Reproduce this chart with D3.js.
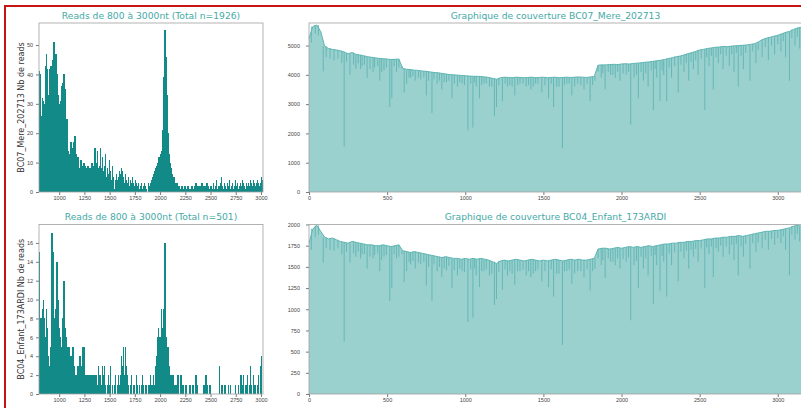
<!DOCTYPE html>
<html>
<head>
<meta charset="utf-8">
<script src="https://cdn.jsdelivr.net/npm/d3@7"></script>
<style>
body{margin:0;background:#fff;}
svg{display:block;font-family:"DejaVu Sans",sans-serif;}
.title{fill:#45a9a6;font-size:9.2px;}
.ylab{fill:#333;font-size:8px;}
.tick text{fill:#444;font-size:5.5px;}
.tick line{stroke:#555;stroke-width:0.8px;}
.domain{display:none;}
</style>
</head>
<body>
<svg id="chart" width="801" height="408"></svg>
<script>
var width = 801, height = 408;

// histogram bins : 10 nt each, first bin starts at 800
var binStart = 800, binWidth = 10;

var mereCounts = [
	41, 40, 26, 32, 31, 30, 43, 47, 42, 33,
	42, 43, 40, 45, 51, 38, 47, 40, 33, 21,
	30, 31, 36, 37, 40, 35, 22, 25, 14, 13,
	12, 17, 11, 15, 17, 19, 13, 10, 12, 8,
	8, 11, 9, 8, 10, 9, 8, 6, 9, 8,
	6, 8, 10, 7, 9, 15, 10, 14, 8, 9,
	15, 8, 12, 7, 9, 13, 5, 8, 6, 11,
	7, 4, 9, 5, 1, 4, 6, 4, 5, 7,
	6, 8, 7, 5, 3, 6, 4, 3, 5, 2,
	4, 3, 5, 3, 2, 4, 3, 2, 3, 1,
	2, 3, 1, 2, 3, 2, 1, 0, 3, 2,
	3, 4, 5, 6, 7, 8, 9, 10, 12, 12,
	13, 14, 21, 39, 55, 46, 33, 20, 13, 10,
	8, 6, 4, 5, 3, 2, 3, 1, 2, 1,
	1, 2, 0, 1, 2, 1, 1, 2, 1, 0,
	1, 2, 1, 1, 2, 3, 1, 2, 1, 2,
	1, 3, 2, 1, 2, 1, 3, 2, 1, 2,
	2, 1, 3, 1, 2, 4, 1, 2, 2, 3,
	5, 2, 1, 3, 2, 1, 3, 2, 4, 1,
	2, 3, 1, 2, 4, 2, 3, 1, 2, 3,
	2, 4, 3, 2, 1, 3, 2, 3, 2, 4,
	3, 2, 4, 3, 2, 3, 4, 3, 2, 3,
	5, 4
];

var enfantCounts = [
	15, 8, 8, 9, 10, 8, 6, 9, 7, 4,
	3, 5, 17, 15, 7, 8, 9, 14, 10, 7,
	6, 5, 3, 8, 12, 7, 6, 5, 4, 5,
	4, 3, 4, 5, 3, 2, 1, 2, 3, 1,
	4, 3, 2, 5, 5, 1, 2, 2, 1, 2,
	2, 1, 2, 2, 1, 2, 2, 1, 3, 2,
	2, 1, 3, 2, 3, 1, 0, 1, 2, 1,
	3, 0, 1, 0, 1, 2, 0, 1, 2, 1,
	2, 4, 3, 5, 2, 5, 3, 2, 1, 0,
	1, 2, 0, 1, 1, 0, 2, 1, 0, 1,
	0, 1, 2, 1, 0, 1, 1, 0, 1, 1,
	2, 1, 1, 2, 1, 3, 4, 6, 7, 6,
	6, 9, 7, 9, 16, 6, 4, 5, 3, 2,
	2, 1, 2, 1, 0, 1, 0, 2, 0, 0,
	2, 0, 1, 0, 0, 1, 0, 0, 0, 1,
	0, 0, 1, 0, 0, 2, 1, 0, 0, 0,
	0, 0, 0, 1, 0, 2, 1, 0, 1, 1,
	0, 0, 0, 0, 0, 0, 0, 0, 3, 0,
	1, 1, 0, 1, 1, 0, 0, 1, 0, 1,
	0, 0, 0, 0, 1, 0, 0, 1, 0, 2,
	2, 1, 2, 0, 1, 1, 2, 0, 1, 3,
	1, 0, 2, 1, 1, 0, 1, 2, 0, 3,
	4, 0
];

// coverage : one value every 25 positions, from 0 to 3150
var covStep = 25;

var mereCov = [
	5250, 5650, 5700, 5480, 4980, 4900, 4870, 4850,
	4820, 4780, 4720, 4760, 4700, 4680, 4650, 4620,
	4600, 4580, 4560, 4550, 4540, 4520, 4530, 4540,
	4220, 4190, 4180, 4160, 4150, 4130, 4120, 4100,
	4080, 4070, 4050, 4030, 4010, 4000, 3990, 3980,
	3970, 3960, 3950, 3950, 3940, 3930, 3910, 3880,
	3850, 3900, 3920, 3910, 3900, 3920, 3910, 3900,
	3910, 3920, 3900, 3910, 3920, 3900, 3910, 3920,
	3900, 3910, 3920, 3910, 3920, 3930, 3920, 3910,
	3930, 3940, 4330, 4340, 4340, 4350, 4360, 4350,
	4370, 4380, 4370, 4390, 4400, 4410, 4430, 4440,
	4460, 4480, 4500, 4520, 4560, 4580, 4620, 4640,
	4680, 4720, 4760, 4800, 4850, 4870, 4900, 4920,
	4940, 4950, 4970, 4960, 4980, 4990, 5000, 5010,
	5020, 5040, 5060, 5120, 5200, 5250, 5280, 5320,
	5350, 5400, 5450, 5480, 5550, 5600, 5620
];

var enfantCov = [
	1780, 1950, 1990, 1920, 1850, 1830, 1840, 1820,
	1800, 1790, 1780, 1800, 1790, 1780, 1770, 1760,
	1760, 1750, 1750, 1760, 1750, 1740, 1750, 1760,
	1690, 1680, 1670, 1680, 1670, 1660, 1650, 1640,
	1630, 1620, 1610, 1620, 1610, 1600, 1600, 1590,
	1600, 1590, 1600, 1590, 1600, 1590, 1580, 1560,
	1540, 1570, 1580, 1570, 1580, 1590, 1580, 1570,
	1580, 1590, 1580, 1570, 1580, 1570, 1580, 1590,
	1580, 1570, 1580, 1590, 1580, 1590, 1580, 1580,
	1590, 1600, 1710, 1720, 1720, 1710, 1720, 1730,
	1720, 1730, 1740, 1730, 1740, 1730, 1740, 1750,
	1740, 1750, 1760, 1770, 1770, 1780, 1780, 1790,
	1790, 1800, 1800, 1810, 1810, 1820, 1830, 1830,
	1840, 1840, 1850, 1850, 1860, 1860, 1870, 1860,
	1870, 1880, 1890, 1900, 1910, 1920, 1920, 1930,
	1930, 1940, 1950, 1960, 1980, 1990, 1980
];

// deep coverage drops : [position, depth]
var mereDips = [
	[91, 4120], [225, 1545], [262, 4000], [300, 4200], [340, 4300], [372, 3900],
	[410, 4100], [453, 3800], [480, 4150], [517, 2900], [530, 3200], [560, 4100],
	[609, 3400], [625, 3700], [650, 3900], [680, 3800], [700, 3900], [751, 3300],
	[787, 2700], [820, 3700], [850, 3500], [880, 3750], [915, 3200], [950, 3600],
	[980, 3700], [1017, 2100], [1049, 2200], [1070, 3600], [1091, 3200], [1120, 3700],
	[1155, 3600], [1187, 2600], [1200, 2900], [1238, 3100], [1270, 3600], [1317, 3300],
	[1350, 3700], [1390, 3600], [1420, 3500], [1450, 3700], [1490, 3400], [1533, 3200],
	[1565, 2900], [1600, 3600], [1622, 1500], [1650, 3700], [1682, 3300], [1720, 3700],
	[1760, 3500], [1799, 3100], [1830, 3800], [1870, 3900], [1895, 3500], [1930, 4000],
	[1960, 3900], [1990, 3800], [2030, 4000], [2059, 2300], [2080, 3900], [2108, 3200],
	[2140, 3800], [2170, 3600], [2204, 2800], [2225, 3900], [2246, 3100], [2270, 4000],
	[2289, 3100], [2320, 3900], [2363, 3400], [2400, 4100], [2430, 3800], [2460, 4200],
	[2490, 4000], [2533, 2800], [2560, 4300], [2587, 3500], [2620, 4400], [2650, 4200],
	[2690, 4300], [2720, 4100], [2747, 3600], [2780, 4200], [2822, 3800], [2860, 4400],
	[2900, 4600], [2940, 4500], [2980, 4700], [3020, 4800], [3050, 4600], [3075, 3800],
	[3110, 5000], [3140, 4900]
];

var enfantDips = [
	[91, 1550], [225, 620], [262, 1550], [300, 1620], [340, 1650], [372, 1480],
	[410, 1600], [453, 1450], [480, 1620], [517, 1100], [530, 1250], [560, 1600],
	[609, 1320], [625, 1450], [650, 1530], [680, 1480], [700, 1550], [751, 1280],
	[787, 1100], [820, 1450], [850, 1380], [880, 1460], [915, 1250], [950, 1400],
	[980, 1450], [1017, 850], [1049, 900], [1070, 1400], [1091, 1260], [1120, 1450],
	[1155, 1400], [1187, 1050], [1200, 1120], [1238, 1230], [1270, 1400], [1317, 1290],
	[1350, 1450], [1390, 1400], [1420, 1380], [1450, 1450], [1490, 1330], [1533, 1260],
	[1565, 1150], [1600, 1420], [1622, 580], [1650, 1450], [1682, 1300], [1720, 1450],
	[1760, 1380], [1799, 1220], [1830, 1480], [1870, 1520], [1895, 1370], [1930, 1560],
	[1960, 1520], [1990, 1480], [2030, 1560], [2059, 870], [2080, 1520], [2108, 1250],
	[2140, 1480], [2170, 1400], [2204, 1060], [2225, 1520], [2246, 1220], [2270, 1560],
	[2289, 1150], [2320, 1520], [2363, 1330], [2400, 1600], [2430, 1480], [2460, 1620],
	[2490, 1560], [2533, 1250], [2560, 1650], [2587, 1380], [2620, 1680], [2650, 1620],
	[2690, 1650], [2720, 1580], [2747, 1400], [2780, 1620], [2822, 1480], [2860, 1680],
	[2900, 1720], [2940, 1700], [2980, 1760], [3020, 1780], [3050, 1700], [3075, 1400],
	[3110, 1820], [3140, 1800]
];

// small drops along the top edge : [position, depth]
var mereMinor = [
	[15, 5100], [40, 5400], [60, 5350], [110, 4600], [135, 4550], [160, 4500], [185, 4550],
	[210, 4400], [240, 4450], [285, 4350], [315, 4400], [330, 4200], [355, 4350], [390, 4200],
	[420, 4250], [440, 4300], [465, 4100], [495, 4250], [545, 4300], [575, 4250], [595, 4300],
	[640, 3900], [665, 3950], [715, 3850], [735, 3900], [765, 3800], [800, 3850], [835, 3800],
	[865, 3750], [895, 3800], [930, 3700], [965, 3750], [995, 3650], [1035, 3700], [1060, 3750],
	[1105, 3650], [1135, 3700], [1170, 3600], [1215, 3650], [1255, 3700], [1285, 3650], [1300, 3600],
	[1335, 3650], [1370, 3700], [1405, 3650], [1435, 3600], [1465, 3700], [1510, 3650], [1550, 3700],
	[1585, 3600], [1635, 3650], [1665, 3700], [1700, 3600], [1740, 3650], [1780, 3700], [1815, 3650],
	[1850, 4100], [1880, 4050], [1915, 4100], [1945, 4000], [1975, 4100], [2010, 4050], [2045, 4100],
	[2095, 4000], [2125, 4100], [2155, 4050], [2190, 4150], [2215, 4200], [2260, 4150], [2305, 4250],
	[2340, 4300], [2380, 4350], [2415, 4400], [2445, 4450], [2475, 4500], [2510, 4550], [2545, 4600],
	[2575, 4650], [2605, 4600], [2635, 4700], [2670, 4650], [2705, 4700], [2735, 4750], [2765, 4650],
	[2795, 4750], [2840, 4800], [2875, 4850], [2920, 4950], [2960, 5000], [3000, 5050], [3035, 5150],
	[3090, 5250], [3125, 5300]
];

var enfantMinor = [
	[15, 1700], [40, 1850], [60, 1880], [110, 1720], [135, 1700], [160, 1690], [185, 1720],
	[210, 1650], [240, 1680], [285, 1660], [315, 1680], [330, 1600], [355, 1650], [390, 1620],
	[420, 1640], [440, 1660], [465, 1580], [495, 1640], [545, 1650], [575, 1620], [595, 1650],
	[640, 1560], [665, 1570], [715, 1530], [735, 1560], [765, 1500], [800, 1530], [835, 1500],
	[865, 1480], [895, 1510], [930, 1460], [965, 1480], [995, 1440], [1035, 1470], [1060, 1480],
	[1105, 1450], [1135, 1470], [1170, 1420], [1215, 1440], [1255, 1470], [1285, 1450], [1300, 1420],
	[1335, 1450], [1370, 1470], [1405, 1450], [1435, 1420], [1465, 1470], [1510, 1450], [1550, 1470],
	[1585, 1420], [1635, 1450], [1665, 1470], [1700, 1420], [1740, 1450], [1780, 1470], [1815, 1450],
	[1850, 1600], [1880, 1580], [1915, 1600], [1945, 1560], [1975, 1600], [2010, 1590], [2045, 1610],
	[2095, 1570], [2125, 1620], [2155, 1600], [2190, 1630], [2215, 1640], [2260, 1630], [2305, 1660],
	[2340, 1670], [2380, 1680], [2415, 1690], [2445, 1700], [2475, 1710], [2510, 1720], [2545, 1730],
	[2575, 1740], [2605, 1720], [2635, 1750], [2670, 1740], [2705, 1760], [2735, 1770], [2765, 1740],
	[2795, 1770], [2840, 1780], [2875, 1790], [2920, 1820], [2960, 1830], [3000, 1840], [3035, 1860],
	[3090, 1880], [3125, 1890]
];

var histTitles = ["Reads de 800 à 3000nt (Total n=1926)", "Reads de 800 à 3000nt (Total n=501)"];
var covTitles = ["Graphique de couverture BC07_Mere_202713", "Graphique de couverture BC04_Enfant_173ARDI"];
var yLabels = ["BC07_Mere_202713 Nb de reads", "BC04_Enfant_173ARDI Nb de reads"];
var histXTicks = [1000, 1250, 1500, 1750, 2000, 2250, 2500, 2750, 3000];
var histYTicks = [[0, 10, 20, 30, 40, 50], [0, 2, 4, 6, 8, 10, 12, 14, 16]];
var covXTicks = [0, 500, 1000, 1500, 2000, 2500, 3000];
var covYTicks = [[0, 1000, 2000, 3000, 4000, 5000], [0, 250, 500, 750, 1000, 1250, 1500, 1750, 2000]];

var histColor = "#128a87";
var covFill = "#9ad0ce";
var covLine = "#5fb6b3";

var rows = [{top: 23, bottom: 192}, {top: 224.5, bottom: 394}];
var histLeft = 39, histRight = 263;
var covLeft = 309, covRight = 802;

var svg = d3.select("#chart");

// frame of the screenshot
svg.append("rect")
	.attr("x", 5).attr("y", 6)
	.attr("width", 900).attr("height", 500)
	.attr("fill", "none")
	.attr("stroke", "#c81414")
	.attr("stroke-width", 2);

createhistogram(0, mereCounts, [0, 57.5]);
createhistogram(1, enfantCounts, [0, 17.95]);
createcoverage(0, mereCov, mereDips.concat(mereMinor), [0, 5770]);
createcoverage(1, enfantCov, enfantDips.concat(enfantMinor), [0, 2000]);

// create read length histogram
function createhistogram(row, counts, ydomain){
	var r = rows[row];
	var x = d3.scaleLinear().domain([800, 3020]).range([histLeft, histRight]);
	var y = d3.scaleLinear().domain(ydomain).range([r.bottom, r.top]);

	var g = svg.append("g").attr("class", "histo");

	g.selectAll(".bar")
		.data(counts).enter()
		.append("rect")
		.attr("class", "bar")
		.attr("x", function(d, i){ return x(binStart + i*binWidth) })
		.attr("width", x(binStart + binWidth) - x(binStart) + 0.4)
		.attr("y", function(d){ return y(d) })
		.attr("height", function(d){ return y(0) - y(d) })
		.attr("fill", histColor)
		.attr("shape-rendering", "crispEdges");

	createaxes(g, x, y, histXTicks, histYTicks[row], r, histLeft, histRight, 3);

	g.append("text")
		.attr("class", "title")
		.attr("x", (histLeft + histRight)/2)
		.attr("y", r.top - 4.5)
		.attr("text-anchor", "middle")
		.text(histTitles[row]);

	g.append("text")
		.attr("class", "ylab")
		.attr("transform", "translate(23.5," + ((r.top + r.bottom)/2) + ") rotate(-90)")
		.attr("text-anchor", "middle")
		.text(yLabels[row]);
};

// create coverage plot
function createcoverage(row, cov, dips, ydomain){
	var r = rows[row];
	var x = d3.scaleLinear().domain([0, 3155]).range([covLeft, covRight]);
	var y = d3.scaleLinear().domain(ydomain).range([r.bottom, r.top]);

	var g = svg.append("g").attr("class", "coverage");

	var area = d3.area()
		.x(function(d, i){ return x(i*covStep) })
		.y0(y(0))
		.y1(function(d){ return y(d) });

	var line = d3.line()
		.x(function(d, i){ return x(i*covStep) })
		.y(function(d){ return y(d) });

	g.append("path")
		.datum(cov)
		.attr("d", area)
		.attr("fill", covFill);

	g.selectAll(".dip")
		.data(dips).enter()
		.append("line")
		.attr("class", "dip")
		.attr("x1", function(d){ return x(d[0]) })
		.attr("x2", function(d){ return x(d[0]) })
		.attr("y1", function(d){ return y(cov[Math.round(d[0]/covStep)]) })
		.attr("y2", function(d){ return y(d[1]) })
		.attr("stroke", covLine)
		.attr("stroke-width", 0.9);

	g.append("path")
		.datum(cov)
		.attr("d", line)
		.attr("fill", "none")
		.attr("stroke", covLine)
		.attr("stroke-width", 1);

	createaxes(g, x, y, covXTicks, covYTicks[row], r, covLeft, covRight, 6);

	g.append("text")
		.attr("class", "title")
		.attr("x", (covLeft + covRight)/2)
		.attr("y", r.top - 4.5)
		.attr("text-anchor", "middle")
		.text(covTitles[row]);
};

// create axes and plot frame
function createaxes(g, x, y, xticks, yticks, r, left, right, ypad){
	g.append("g")
		.attr("transform", "translate(0," + r.bottom + ")")
		.call(d3.axisBottom(x).tickValues(xticks).tickFormat(d3.format("d")).tickSize(3).tickPadding(1.5));

	g.append("g")
		.attr("transform", "translate(" + left + ",0)")
		.call(d3.axisLeft(y).tickValues(yticks).tickFormat(d3.format("d")).tickSize(3).tickPadding(ypad));

	g.append("rect")
		.attr("x", left).attr("y", r.top)
		.attr("width", right - left).attr("height", r.bottom - r.top)
		.attr("fill", "none")
		.attr("stroke", "#a0a0a0")
		.attr("stroke-width", 0.8);
};
</script>
</body>
</html>
